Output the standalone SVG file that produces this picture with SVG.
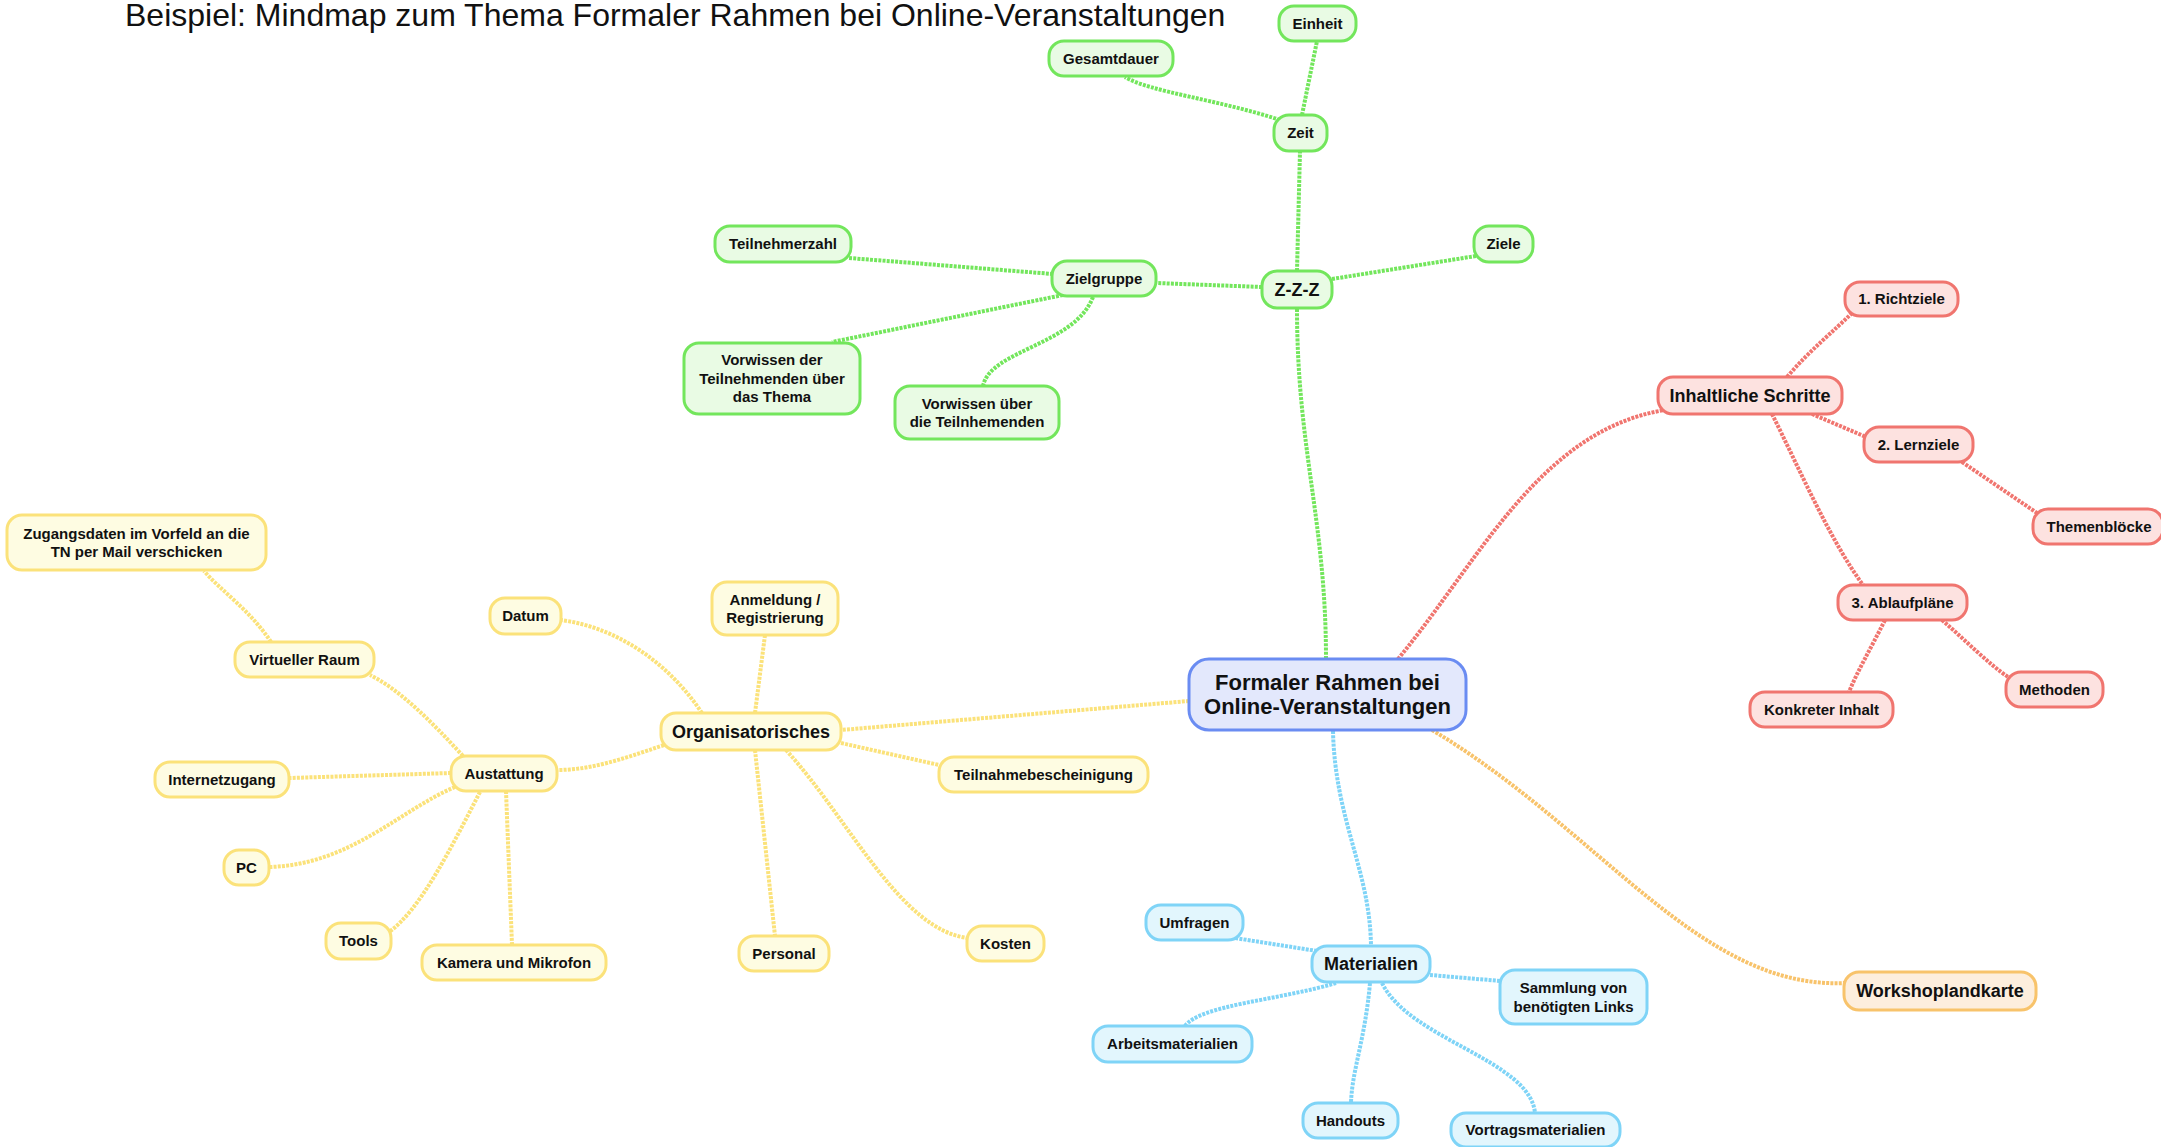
<svg xmlns="http://www.w3.org/2000/svg" width="2161" height="1147" viewBox="0 0 2161 1147">
<style>
text{font-family:"Liberation Sans",Arial,sans-serif;font-weight:bold;font-size:15px;text-anchor:middle;fill:#111}
.big text{font-size:18px}
.title{font-weight:normal;font-size:32px;text-anchor:start}
rect{stroke-width:3}
.c path{fill:none;stroke-width:4;stroke-dasharray:3 1.2}
.cg{stroke:#73e65c}.cr{stroke:#f0756f}.cb{stroke:#7fd4f7}.cy{stroke:#fbe27a}.co{stroke:#f8c36b}
.g rect{fill:#e9fbe4;stroke:#73e65c}
.r rect{fill:#fde2e0;stroke:#f0756f}
.b rect{fill:#e2f6fd;stroke:#7fd4f7}
.y rect{fill:#fefce2;stroke:#fbe27a}
.o rect{fill:#fdeedd;stroke:#f8c36b}
#central rect{fill:#e3e8fc;stroke:#6a8cf2}
#central text{font-size:22px}
</style>
<rect x="0" y="0" width="2161" height="1147" fill="#ffffff" stroke="none"/>
<text class="title" x="125" y="26">Beispiel: Mindmap zum Thema Formaler Rahmen bei Online-Veranstaltungen</text>
<g class="c" id="connectors">
<path class="cg" d="M1326,659 C1326,520 1297,450 1297,308"/>
<path class="cg" d="M1297,271 L1300,151"/>
<path class="cg" d="M1302,115 L1317,41"/>
<path class="cg" d="M1280,120 C1220,100 1150,92 1125,77"/>
<path class="cg" d="M1332,279 L1476,256"/>
<path class="cg" d="M1262,287 L1156,283"/>
<path class="cg" d="M1053,274 L849,258"/>
<path class="cg" d="M1063,295 L832,342"/>
<path class="cg" d="M1093,297 C1075,345 990,350 983,386"/>
<path class="cr" d="M1398,659 C1480,560 1540,430 1665,410"/>
<path class="cr" d="M1787,377 C1810,350 1835,330 1852,313"/>
<path class="cr" d="M1812,414 L1866,437"/>
<path class="cr" d="M1962,462 L2037,513"/>
<path class="cr" d="M1772,414 C1800,470 1830,540 1863,585"/>
<path class="cr" d="M1885,620 C1870,650 1858,670 1849,692"/>
<path class="cr" d="M1942,620 C1965,640 1990,665 2008,677"/>
<path class="cb" d="M1333,731 C1335,820 1370,870 1371,946"/>
<path class="cb" d="M1317,951 L1235,938"/>
<path class="cb" d="M1430,975 L1501,981"/>
<path class="cb" d="M1336,983 C1280,1000 1200,1005 1185,1026"/>
<path class="cb" d="M1370,983 C1365,1040 1352,1070 1351,1103"/>
<path class="cb" d="M1382,983 C1410,1040 1530,1060 1535,1113"/>
<path class="cy" d="M1189,701 L841,730"/>
<path class="cy" d="M755,713 L765,635"/>
<path class="cy" d="M702,713 C670,665 620,628 561,620"/>
<path class="cy" d="M841,743 L939,765"/>
<path class="cy" d="M755,750 L775,936"/>
<path class="cy" d="M786,750 C850,820 900,930 968,938"/>
<path class="cy" d="M664,745 C620,760 590,770 557,770"/>
<path class="cy" d="M463,756 C430,720 400,690 370,675"/>
<path class="cy" d="M451,773 L289,778"/>
<path class="cy" d="M455,787 C400,810 350,865 269,867"/>
<path class="cy" d="M480,792 C450,850 420,910 389,932"/>
<path class="cy" d="M506,791 L512,945"/>
<path class="cy" d="M271,642 C250,610 220,590 204,571"/>
<path class="co" d="M1432,730 C1600,830 1700,990 1845,983"/>
</g>
<g id="central"><rect x="1189" y="659" width="277" height="71" rx="20"/><text x="1327.5" y="690.4">Formaler Rahmen bei</text><text x="1327.5" y="714.4">Online-Veranstaltungen</text></g>
<g id="zzz" class="g big"><rect x="1262" y="271" width="70" height="37" rx="15"/><text x="1297" y="295.9">Z-Z-Z</text></g>
<g id="zeit" class="g"><rect x="1274" y="115" width="53" height="36" rx="15"/><text x="1300.5" y="138.4">Zeit</text></g>
<g id="einheit" class="g"><rect x="1279" y="6" width="77" height="35" rx="15"/><text x="1317.5" y="28.9">Einheit</text></g>
<g id="gesamtdauer" class="g"><rect x="1049" y="41" width="124" height="35" rx="15"/><text x="1111" y="63.9">Gesamtdauer</text></g>
<g id="ziele" class="g"><rect x="1474" y="226" width="59" height="36" rx="15"/><text x="1503.5" y="249.4">Ziele</text></g>
<g id="zielgruppe" class="g"><rect x="1052" y="261" width="104" height="35" rx="15"/><text x="1104" y="283.9">Zielgruppe</text></g>
<g id="teilnehmerzahl" class="g"><rect x="715" y="226" width="136" height="36" rx="15"/><text x="783" y="249.4">Teilnehmerzahl</text></g>
<g id="vorwissen-der" class="g"><rect x="684" y="343" width="176" height="71" rx="15"/><text x="772" y="365.4">Vorwissen der</text><text x="772" y="383.9">Teilnehmenden über</text><text x="772" y="402.4">das Thema</text></g>
<g id="vorwissen-ueber" class="g"><rect x="895" y="386" width="164" height="53" rx="15"/><text x="977" y="408.6">Vorwissen über</text><text x="977" y="427.1">die Teilnhemenden</text></g>
<g id="inhaltliche" class="r big"><rect x="1658" y="377" width="184" height="37" rx="15"/><text x="1750" y="401.9">Inhaltliche Schritte</text></g>
<g id="richtziele" class="r"><rect x="1845" y="282" width="113" height="34" rx="15"/><text x="1901.5" y="304.4">1. Richtziele</text></g>
<g id="lernziele" class="r"><rect x="1864" y="427" width="109" height="35" rx="15"/><text x="1918.5" y="449.9">2. Lernziele</text></g>
<g id="themenbloecke" class="r"><rect x="2033" y="509" width="130" height="35" rx="15"/><text x="2099" y="531.9">Themenblöcke</text></g>
<g id="ablaufplaene" class="r"><rect x="1838" y="585" width="129" height="35" rx="15"/><text x="1902.5" y="607.9">3. Ablaufpläne</text></g>
<g id="konkreter" class="r"><rect x="1750" y="692" width="143" height="35" rx="15"/><text x="1821.5" y="714.9">Konkreter Inhalt</text></g>
<g id="methoden" class="r"><rect x="2006" y="672" width="97" height="35" rx="15"/><text x="2054.5" y="694.9">Methoden</text></g>
<g id="materialien" class="b big"><rect x="1312" y="946" width="118" height="36" rx="15"/><text x="1371" y="970.4">Materialien</text></g>
<g id="umfragen" class="b"><rect x="1146" y="905" width="97" height="35" rx="15"/><text x="1194.5" y="927.9">Umfragen</text></g>
<g id="sammlung" class="b"><rect x="1500" y="970" width="147" height="54" rx="15"/><text x="1573.5" y="993.2">Sammlung von</text><text x="1573.5" y="1011.7">benötigten Links</text></g>
<g id="arbeitsmaterialien" class="b"><rect x="1093" y="1026" width="159" height="36" rx="15"/><text x="1172.5" y="1049.4">Arbeitsmaterialien</text></g>
<g id="handouts" class="b"><rect x="1303" y="1103" width="95" height="35" rx="15"/><text x="1350.5" y="1125.9">Handouts</text></g>
<g id="vortragsmaterialien" class="b"><rect x="1451" y="1113" width="169" height="34" rx="15"/><text x="1535.5" y="1135.4">Vortragsmaterialien</text></g>
<g id="organisatorisches" class="y big"><rect x="661" y="713" width="180" height="37" rx="15"/><text x="751" y="737.9">Organisatorisches</text></g>
<g id="anmeldung" class="y"><rect x="712" y="582" width="126" height="53" rx="15"/><text x="775" y="604.6">Anmeldung /</text><text x="775" y="623.1">Registrierung</text></g>
<g id="datum" class="y"><rect x="490" y="598" width="71" height="36" rx="15"/><text x="525.5" y="621.4">Datum</text></g>
<g id="teilnahme" class="y"><rect x="939" y="757" width="209" height="35" rx="15"/><text x="1043.5" y="779.9">Teilnahmebescheinigung</text></g>
<g id="personal" class="y"><rect x="739" y="936" width="90" height="35" rx="15"/><text x="784" y="958.9">Personal</text></g>
<g id="kosten" class="y"><rect x="967" y="926" width="77" height="35" rx="15"/><text x="1005.5" y="948.9">Kosten</text></g>
<g id="austattung" class="y"><rect x="451" y="756" width="106" height="35" rx="15"/><text x="504" y="778.9">Austattung</text></g>
<g id="virtueller" class="y"><rect x="235" y="642" width="139" height="35" rx="15"/><text x="304.5" y="664.9">Virtueller Raum</text></g>
<g id="zugangsdaten" class="y"><rect x="7" y="515" width="259" height="55" rx="15"/><text x="136.5" y="538.6">Zugangsdaten im Vorfeld an die</text><text x="136.5" y="557.1">TN per Mail verschicken</text></g>
<g id="internetzugang" class="y"><rect x="155" y="762" width="134" height="35" rx="15"/><text x="222" y="784.9">Internetzugang</text></g>
<g id="pc" class="y"><rect x="224" y="850" width="45" height="35" rx="15"/><text x="246.5" y="872.9">PC</text></g>
<g id="tools" class="y"><rect x="326" y="923" width="65" height="36" rx="15"/><text x="358.5" y="946.4">Tools</text></g>
<g id="kamera" class="y"><rect x="422" y="945" width="184" height="35" rx="15"/><text x="514" y="967.9">Kamera und Mikrofon</text></g>
<g id="workshoplandkarte" class="o big"><rect x="1844" y="972" width="192" height="38" rx="15"/><text x="1940" y="997.4">Workshoplandkarte</text></g>
</svg>
